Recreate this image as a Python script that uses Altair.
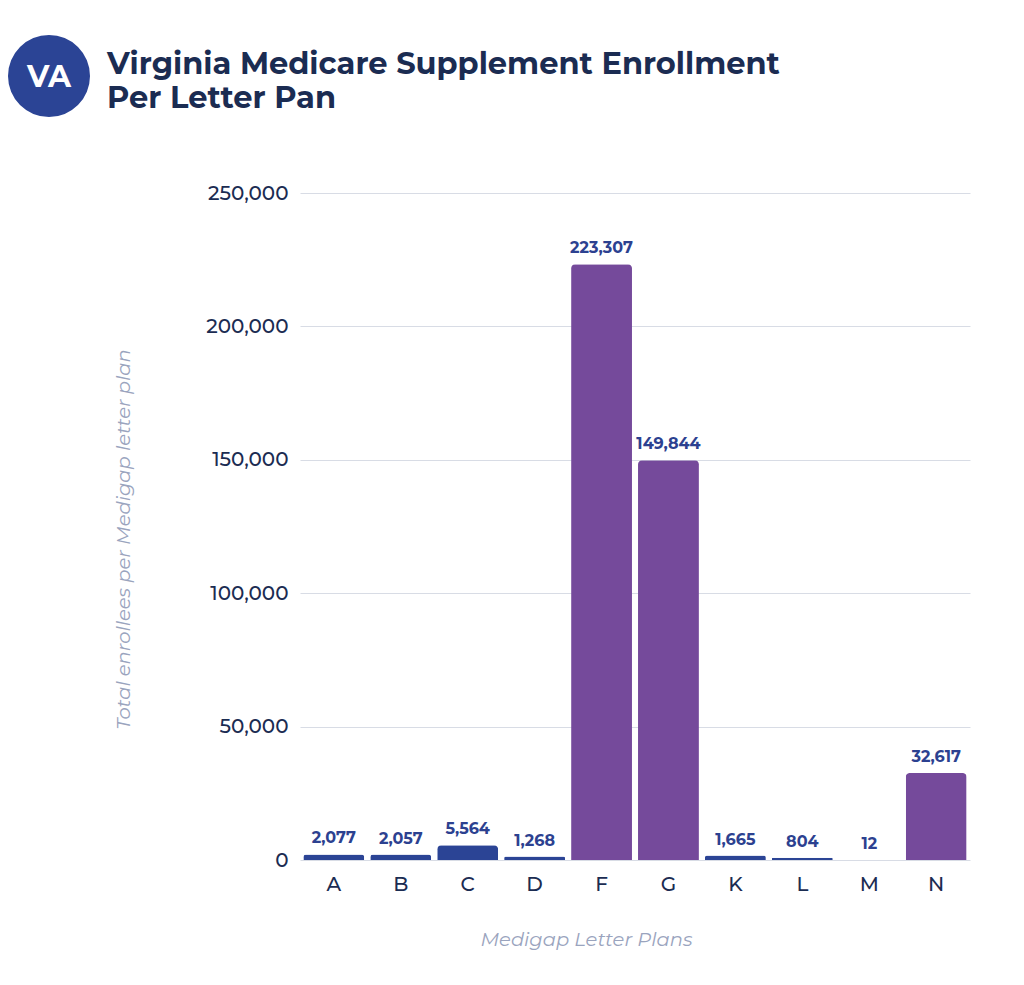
import altair as alt
import pandas as pd

plans = ["A", "B", "C", "D", "F", "G", "K", "L", "M", "N"]
enrollees = [2077, 2057, 5564, 1268, 223307, 149844, 1665, 804, 12, 32617]
title_lines = ["Virginia Medicare Supplement Enrollment", "Per Letter Pan"]
badge_text = "VA"

df = pd.DataFrame({"plan": plans, "enrollees": enrollees})

BLUE = "#2b4495"
PURPLE = "#754a9b"
NAVY = "#1b2c52"
LABEL = "#2c4190"
MUTED = "#9aa4be"
FONT = "Montserrat, Lato, sans-serif"

base = alt.Chart(df)
yscale = alt.Scale(domain=[0, 250000], nice=False)

x_enc = alt.X(
    "plan:N",
    sort=plans,
    scale=alt.Scale(paddingInner=0.09, paddingOuter=0.05),
    axis=alt.Axis(
        title="Medigap Letter Plans",
        titleFont=FONT,
        titleFontStyle="italic",
        titleFontWeight="normal",
        titleFontSize=19.5,
        titleColor=MUTED,
        titlePadding=36,
        titleX=286,
        titleAlign="center",
        labelFont=FONT,
        labelFontSize=20,
        labelFontWeight=500,
        labelColor=NAVY,
        labelAngle=0,
        labelPadding=14,
        ticks=False,
        domain=False,
    ),
)
y_enc = alt.Y(
    "enrollees:Q",
    scale=yscale,
    axis=alt.Axis(
        title="Total enrollees per Medigap letter plan",
        titleFont=FONT,
        titleFontStyle="italic",
        titleFontWeight="normal",
        titleFontSize=19.5,
        titleColor=MUTED,
        titlePadding=72,
        titleY=346,
        labelFont=FONT,
        labelFontSize=20,
        labelFontWeight=500,
        labelColor=NAVY,
        labelPadding=12,
        values=[0, 50000, 100000, 150000, 200000, 250000],
        format=",d",
        ticks=False,
        domain=False,
        gridColor="#d8dce5",
        gridWidth=1,
    ),
)

bars = base.mark_bar(cornerRadiusTopLeft=4, cornerRadiusTopRight=4).encode(
    x=x_enc,
    y=y_enc,
    color=alt.condition(alt.datum.enrollees > 20000, alt.value(PURPLE), alt.value(BLUE)),
)

labels = base.mark_text(
    baseline="bottom", dy=-8, font=FONT, fontSize=16, fontWeight="bold", color=LABEL
).encode(
    x=alt.X("plan:N", sort=plans),
    y=alt.Y("enrollees:Q", scale=yscale),
    text=alt.Text("enrollees:Q", format=","),
)

badge_df = pd.DataFrame({"t": [badge_text]})
badge = alt.Chart(badge_df).mark_point(
    shape="circle", filled=True, size=6724, color=BLUE, opacity=1
).encode(x=alt.value(-251), y=alt.value(-117))
badge_label = alt.Chart(badge_df).mark_text(
    font=FONT, fontSize=30, fontWeight="bold", color="white", align="center", baseline="middle"
).encode(x=alt.value(-251), y=alt.value(-115), text="t:N")

title1 = alt.Chart(pd.DataFrame({"line": [title_lines[0]]})).mark_text(
    font=FONT, fontSize=30.5, fontWeight="bold", color=NAVY, align="left", baseline="alphabetic"
).encode(x=alt.value(-193), y=alt.value(-119), text="line:N")
title2 = alt.Chart(pd.DataFrame({"line": [title_lines[1]]})).mark_text(
    font=FONT, fontSize=30.5, fontWeight="bold", color=NAVY, align="left", baseline="alphabetic"
).encode(x=alt.value(-193), y=alt.value(-85), text="line:N")

chart = alt.layer(bars, labels, badge, badge_label, title1, title2).properties(
    width=670,
    height=667,
    background="white",
    padding={"left": 292, "top": 185, "right": 40, "bottom": 100},
    autosize=alt.AutoSizeParams(type="none"),
).configure_view(strokeWidth=0)

chart.save("out.html", embed_options={"renderer": "svg", "actions": False})
